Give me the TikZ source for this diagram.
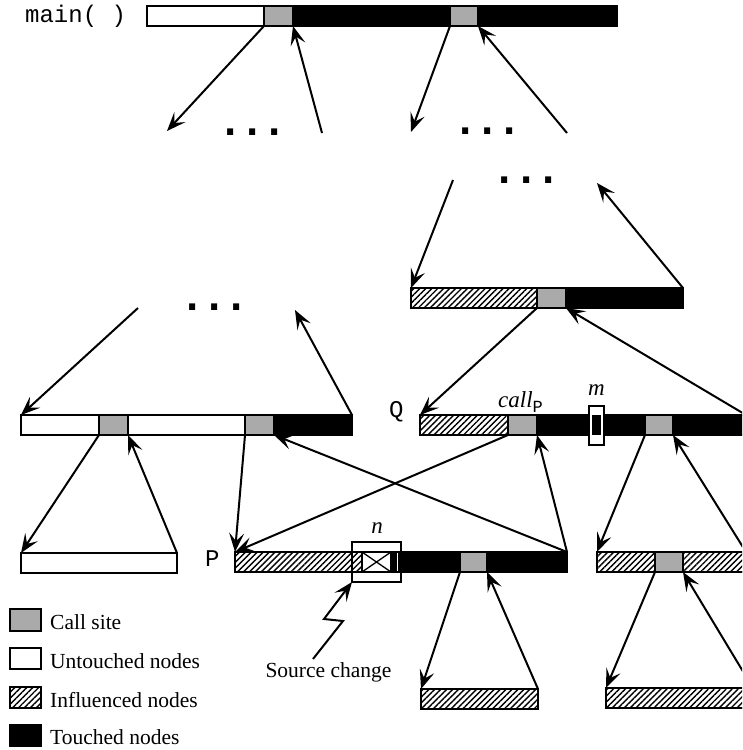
\documentclass[tikz,border=0pt]{standalone}
\usepackage{fontspec}
\setmainfont{Liberation Serif}
\setmonofont{Liberation Mono}
\newfontfamily\dotsfont{DejaVu Sans Mono}
\usetikzlibrary{arrows.meta,patterns.meta}
\definecolor{callgray}{RGB}{170,170,170}

\tikzset{
  seg/.style={draw, line width=1.3pt, inner sep=0pt, outer sep=0pt,
    anchor=north west, minimum height=20pt},
  untouched/.style={fill=white},
  callsite/.style={fill=callgray},
  touched/.style={fill=black},
  influenced/.style={pattern={Lines[angle=45,distance=4.2pt,line width=1.4pt]},
    pattern color=black},
  arr/.style={line width=2pt, line join=miter,
    -{Stealth[length=19pt,width=15pt,inset=8pt]}},
  ellip/.style={font=\dotsfont\bfseries\fontsize{37}{37}\selectfont,
    inner sep=0pt, anchor=base},
  mono/.style={font=\ttfamily\fontsize{24}{24}\selectfont, inner sep=0pt,
    anchor=base west},
  ital/.style={font=\itshape\fontsize{23}{23}\selectfont, inner sep=0pt,
    anchor=base},
  legend/.style={font=\fontsize{21.5}{21.5}\selectfont, inner sep=0pt,
    anchor=base west},
}

% one cell of an activation bar: name, kind, left x, right x, top y
\newcommand\barseg[5]{\node[seg,#2,minimum width={#4-#3}] (#1) at (#3,#5) {};}

\begin{document}
\begin{tikzpicture}[x=1pt,y=-1pt]
\path[use as bounding box] (0,0) rectangle (742,750);
\clip (0,0) rectangle (742,750);

% ---- main( )
\barseg{m1}{untouched}{147}{264}{6}
\barseg{m2}{callsite}{264}{293}{6}
\barseg{m3}{touched}{293}{450}{6}
\barseg{m4}{callsite}{450}{478}{6}
\barseg{m5}{touched}{478}{617}{6}
\node[mono] (mainlbl) at (25,22) {main( )};

% ---- caller of Q
\barseg{a1}{influenced}{411}{537}{288}
\barseg{a2}{callsite}{537}{566}{288}
\barseg{a3}{touched}{566}{683}{288}

% ---- left procedure
\barseg{l1}{untouched}{21}{99}{415}
\barseg{l2}{callsite}{99}{128}{415}
\barseg{l3}{untouched}{128}{245}{415}
\barseg{l4}{callsite}{245}{274}{415}
\barseg{l5}{touched}{274}{352}{415}

% ---- Q
\barseg{q1}{influenced}{420}{508}{415}
\barseg{q2}{callsite}{508}{537}{415}
\barseg{q3}{touched}{537}{645}{415}
\barseg{q4}{callsite}{645}{673}{415}
\barseg{q5}{touched}{673}{746}{415}
\node[mono] (qlbl) at (389,417) {Q};

% ---- leaf under the left procedure
\barseg{b1}{untouched}{21}{177}{553}

% ---- P
\barseg{p1}{influenced}{235}{362}{552}
\barseg{p2}{untouched}{362}{391}{552}
\barseg{p3}{touched}{391}{460}{552}
\barseg{p4}{callsite}{460}{487}{552}
\barseg{p5}{touched}{487}{567}{552}
\node[mono] (plbl) at (205,566) {P};
\draw[line width=1.3pt] (p2.north west) -- (p2.south east)
                        (p2.south west) -- (p2.north east);

% ---- callee of Q (right)
\barseg{r1}{influenced}{597}{655}{552}
\barseg{r2}{callsite}{655}{683}{552}
\barseg{r3}{influenced}{683}{746}{552}

% ---- leaves under P and the right callee
\barseg{b2}{influenced}{421}{538}{689}
\barseg{b3}{influenced}{606}{753}{688}

% ---- changed node n and marked node m
\node[draw, line width=1.3pt, inner sep=0pt, outer sep=0pt, anchor=north west,
  minimum width=49, minimum height=40] (nbox) at (352,542) {};
\draw[white, line width=1.6pt] (397.5,553) -- (397.5,571);
\node[ital] (nlbl) at (377,533) {n};

\node[draw, line width=1.3pt, fill=white, inner sep=0pt, outer sep=0pt,
  anchor=north west, minimum width=15, minimum height=39] (mbox) at (589,406) {};
\fill[black] (591.6,415) rectangle (601.4,435);
\node[ital] (mlbl) at (596.5,395) {m};

\node[ital, anchor=base west] (calllbl) at (498,407)
  {call\raisebox{-5pt}{\upshape\ttfamily\fontsize{17}{17}\selectfont P}};

% ---- elided parts of the tree
\node[ellip] (d1) at (252.5,135) {...};
\node[ellip] (d2) at (487.5,134) {...};
\node[ellip] (d3) at (526.5,183) {...};
\node[ellip] (d4) at (214.5,310) {...};

\coordinate (e1) at (167,131);
\coordinate (e2) at (322,133);
\coordinate (e3) at (411,132);
\coordinate (e4) at (567,133);
\coordinate (e5) at (453,180);
\coordinate (e6) at (597,183);
\coordinate (e7) at (138,308);
\coordinate (e8) at (295,310);

% ---- calls and returns
\draw[arr] (m2.south west) -- (e1);
\draw[arr] (e2) -- (m2.south east);
\draw[arr] (m4.south west) -- (e3);
\draw[arr] (e4) -- (m4.south east);

\draw[arr] (e5) -- (a1.north west);
\draw[arr] (a3.north east) -- (e6);
\draw[arr] (a2.south west) -- (q1.north west);
\draw[arr] (q5.north east) -- (a2.south east);

\draw[arr] (e7) -- (l1.north west);
\draw[arr] (l5.north east) -- (e8);
\draw[arr] (l2.south west) -- (b1.north west);
\draw[arr] (b1.north east) -- (l2.south east);
\draw[arr] (l4.south west) -- (p1.north west);
\draw[arr] (p5.north east) -- (l4.south east);

\draw[arr] (q2.south west) -- (p1.north west);
\draw[arr] (p5.north east) -- (q2.south east);
\draw[arr] (q4.south west) -- (r1.north west);
\draw[arr] (r3.north east) -- (q4.south east);

\draw[arr] (p4.south west) -- (b2.north west);
\draw[arr] (b2.north east) -- (p4.south east);
\draw[arr] (r2.south west) -- (b3.north west);
\draw[arr] (b3.north east) -- (r2.south east);

% ---- source change
\node[legend, anchor=base] (src) at (328.5,677) {Source change};
\coordinate (zz) at (313,659);
\draw[arr] (zz) -- ++(30,-38) -- ++(-19,-2) -- (nbox.south west);

% ---- legend
\node[seg, callsite, minimum width=31, minimum height=22] (k1) at (10,609) {};
\node[seg, untouched, minimum width=31, minimum height=21] (k2) at (10,648) {};
\node[seg, influenced, minimum width=31, minimum height=21] (k3) at (10,687) {};
\node[seg, touched, minimum width=31, minimum height=21] (k4) at (10,725) {};
\node[legend] (t1) at (50,629) {Call site};
\node[legend] (t2) at (50,668) {Untouched nodes};
\node[legend] (t3) at (50,707) {Influenced nodes};
\node[legend] (t4) at (50,744) {Touched nodes};
\end{tikzpicture}
\end{document}
